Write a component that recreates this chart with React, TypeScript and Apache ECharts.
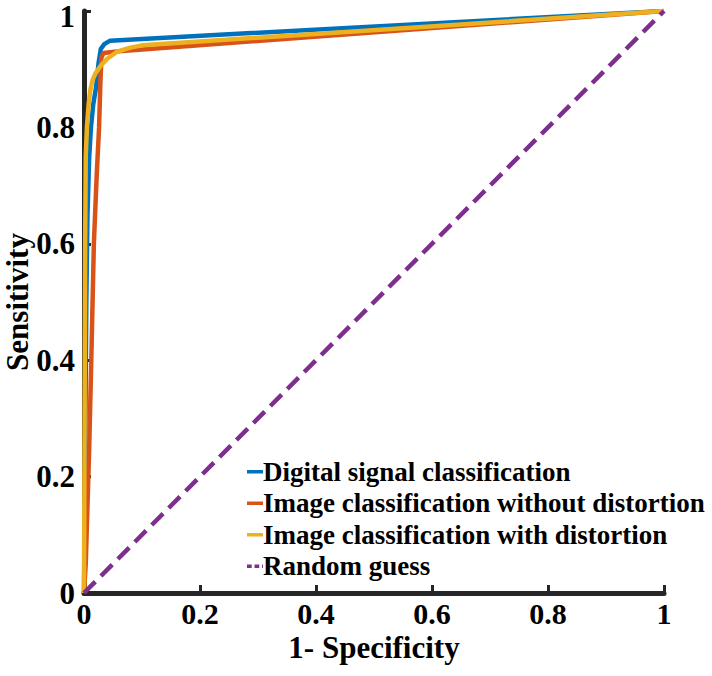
import React, { useEffect, useRef } from "react";
import * as echarts from "echarts";

const seriesNames = [
  "Digital signal classification",
  "Image classification without distortion",
  "Image classification with distortion",
  "Random guess",
];

const digitalFpr = [0, 0.002, 0.004, 0.006, 0.009, 0.012, 0.016, 0.021, 0.025, 0.029, 0.035, 0.045, 1];
const digitalTpr = [0, 0.25, 0.5, 0.65, 0.75, 0.8, 0.84, 0.87, 0.91, 0.935, 0.943, 0.949, 1];

const imageNoDistFpr = [0, 0.003, 0.006, 0.009, 0.013, 0.017, 0.022, 0.026, 0.028, 0.03, 0.034, 0.06, 1];
const imageNoDistTpr = [0, 0.05, 0.15, 0.25, 0.42, 0.6, 0.72, 0.8, 0.87, 0.92, 0.928, 0.931, 1];

const imageDistFpr = [0, 0.001, 0.002, 0.003, 0.005, 0.008, 0.011, 0.015, 0.02, 0.028, 0.04, 0.057, 0.08, 0.1, 1];
const imageDistTpr = [0, 0.3, 0.6, 0.75, 0.8, 0.84, 0.865, 0.882, 0.893, 0.905, 0.918, 0.93, 0.937, 0.941, 1];

const randomFpr = [0, 1];
const randomTpr = [0, 1];

const xTicks = [0, 0.2, 0.4, 0.6, 0.8, 1];

const colors = ["#0072BD", "#D95319", "#EDB120", "#7E2F8E"];

const zip = (a: number[], b: number[]) => a.map((v, i) => [v, b[i]]);

const solidIcon = "path://M0,0h16v3.5h-16z";
const dashIcon = "path://M0,0h5v3.5h-5z M8,0h5v3.5h-5z M16,0h1v3.5h-1z";

export default function App() {
  const ref = useRef<HTMLDivElement>(null);
  useEffect(() => {
    if (!ref.current) return;
    const chart = echarts.init(ref.current, null, { renderer: "svg" });
    const font = "Liberation Serif";
    const axisColor = "#262626";
    const lineW = 4.5;
    const labelFont = { fontFamily: font, fontWeight: "bold", fontSize: 31, color: "#000" };
    chart.setOption({
      animation: false,
      backgroundColor: "#ffffff",
      grid: { left: 84, right: 48, top: 11, bottom: 83, containLabel: false, outerBoundsMode: "none" },
      xAxis: {
        type: "value",
        min: xTicks[0],
        max: xTicks[xTicks.length - 1],
        interval: 0.2,
        name: "1- Specificity",
        nameLocation: "middle",
        nameGap: 39,
        nameMoveOverlap: false,
        nameTextStyle: { fontFamily: font, fontWeight: "bold", fontSize: 31, color: "#000", verticalAlign: "top", lineHeight: 31 },
        axisLine: { show: true, onZero: false, lineStyle: { color: axisColor, width: 5 } },
        axisTick: { show: true, inside: true, length: 8, lineStyle: { color: axisColor, width: 3 } },
        axisLabel: { margin: 5, lineHeight: 30, ...labelFont, fontSize: 30 },
        splitLine: { show: false },
      },
      yAxis: {
        type: "value",
        min: 0,
        max: 1,
        interval: 0.2,
        name: "Sensitivity",
        nameLocation: "middle",
        nameGap: 52,
        nameMoveOverlap: false,
        nameTextStyle: { fontFamily: font, fontWeight: "bold", fontSize: 31, color: "#000", lineHeight: 30 },
        axisLine: { show: true, onZero: false, lineStyle: { color: axisColor, width: 5 } },
        axisTick: { show: true, inside: true, length: 7, lineStyle: { color: axisColor, width: 3 } },
        axisLabel: {
          margin: 9,
          lineHeight: 24,
          ...labelFont,
          formatter: (v: number) => (v === 1 ? "{top|1}" : String(v)),
          rich: { top: { ...labelFont, lineHeight: 24, padding: [10, 0, 0, 0] } },
        },
        splitLine: { show: false },
      },
      legend: {
        orient: "vertical",
        left: 242,
        top: 451,
        itemWidth: 16,
        itemHeight: 3.5,
        itemGap: 0,
        data: [
          { name: seriesNames[0], icon: solidIcon },
          { name: seriesNames[1], icon: solidIcon },
          { name: seriesNames[2], icon: solidIcon },
          { name: seriesNames[3], icon: dashIcon },
        ],
        textStyle: { fontFamily: font, fontWeight: "bold", fontSize: 27, color: "#000", lineHeight: 31.5, padding: [0, 0, 0, -5] },
      },
      series: [
        {
          name: seriesNames[0],
          type: "line",
          data: zip(digitalFpr, digitalTpr),
          symbol: "none",
          lineStyle: { color: colors[0], width: lineW },
          itemStyle: { color: colors[0] },
        },
        {
          name: seriesNames[1],
          type: "line",
          data: zip(imageNoDistFpr, imageNoDistTpr),
          symbol: "none",
          lineStyle: { color: colors[1], width: lineW },
          itemStyle: { color: colors[1] },
        },
        {
          name: seriesNames[2],
          type: "line",
          data: zip(imageDistFpr, imageDistTpr),
          symbol: "none",
          lineStyle: { color: colors[2], width: lineW },
          itemStyle: { color: colors[2] },
        },
        {
          name: seriesNames[3],
          type: "line",
          data: zip(randomFpr, randomTpr),
          symbol: "none",
          lineStyle: { color: colors[3], width: lineW, type: [16, 8] },
          itemStyle: { color: colors[3] },
        },
      ],
    });
    return () => chart.dispose();
  }, []);
  return (
    <div
      ref={ref}
      style={{ position: "fixed", left: 0, top: 0, width: 712, height: 676, background: "#fff" }}
    />
  );
}
